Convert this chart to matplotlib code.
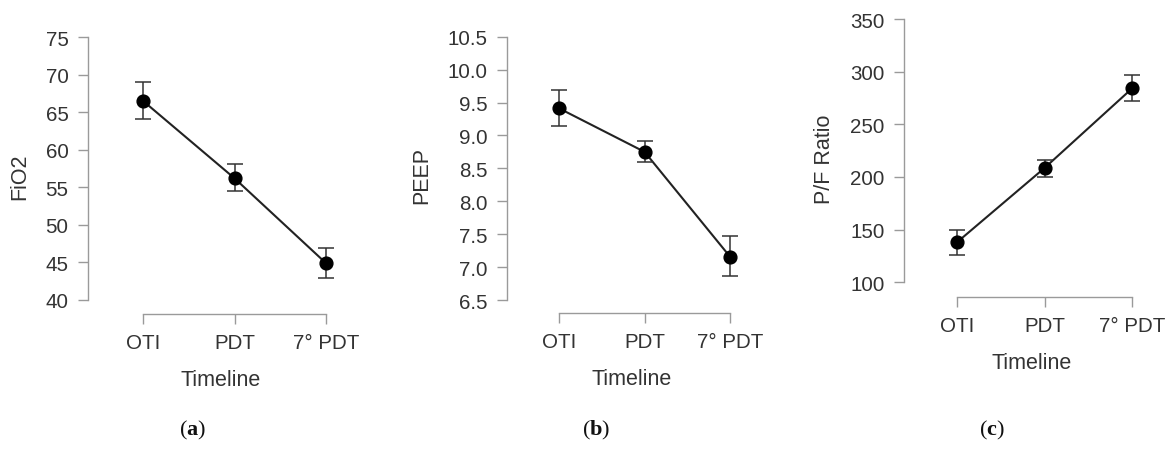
import matplotlib
matplotlib.use("Agg")
import matplotlib.pyplot as plt

plt.rcParams['font.family'] = ['Liberation Sans', 'DejaVu Sans']
plt.rcParams['mathtext.fontset'] = 'custom'
plt.rcParams['mathtext.rm'] = 'Liberation Serif'
plt.rcParams['mathtext.bf'] = 'Liberation Serif:bold'

categories = ["OTI", "PDT", "7° PDT"]

fio2_mean = [66.5, 56.2, 44.9]
fio2_low = [64.1, 54.5, 42.9]
fio2_high = [69.0, 58.1, 46.9]

peep_mean = [9.41, 8.75, 7.16]
peep_low = [9.14, 8.59, 6.87]
peep_high = [9.69, 8.92, 7.47]

pf_mean = [138, 208.6, 284.2]
pf_low = [126.3, 200.4, 272]
pf_high = [150, 216.5, 296.8]

ylabels = ["FiO2", "PEEP", "P/F Ratio"]
yticks = [[40, 45, 50, 55, 60, 65, 70, 75],
          [6.5, 7.0, 7.5, 8.0, 8.5, 9.0, 9.5, 10.0, 10.5],
          [100, 150, 200, 250, 300, 350]]
yticklabels = [[str(v) for v in yticks[0]],
               ["%.1f" % v for v in yticks[1]],
               [str(v) for v in yticks[2]]]
captions = ["a", "b", "c"]

W, H = 1170, 452
fig = plt.figure(figsize=(W / 100, H / 100), dpi=100)

# layout in pixels: (left spine x, x of cat0, px per cat unit, y px of top tick, y px of bottom tick, x-spine y px)
layouts = [
    (88.0, 143.0, 91.5, 38.0, 301.0, 315.0),
    (507.3, 559.3, 85.3, 37.7, 301.0, 314.0),
    (904.3, 957.0, 87.6, 20.0, 283.3, 297.7),
]
caption_x = [193, 596, 992]
caption_y = 430

spine_col = '#9a9a9a'
text_col = '#333333'

series = [(fio2_mean, fio2_low, fio2_high),
          (peep_mean, peep_low, peep_high),
          (pf_mean, pf_low, pf_high)]

for i in range(3):
    lx, c0, ppu, ytop, ybot, xsp = layouts[i]
    ymin_t, ymax_t = yticks[i][0], yticks[i][-1]
    ppv = (ybot - ytop) / (ymax_t - ymin_t)
    ylo = ymin_t - (xsp - ybot) / ppv
    xlo = -(c0 - lx) / ppu
    xhi = 2.3
    right_px = lx + (xhi - xlo) * ppu
    ax = fig.add_axes([lx / W, (H - xsp) / H, (right_px - lx) / W, (xsp - ytop) / H])
    ax.set_xlim(xlo, xhi)
    ax.set_ylim(ylo, ymax_t)
    ax.patch.set_alpha(0)

    m, lo, hi = series[i]
    x = list(range(len(categories)))
    yerr = [[m[k] - lo[k] for k in x], [hi[k] - m[k] for k in x]]
    ax.plot(x, m, color='#222222', lw=1.5, zorder=2)
    ax.errorbar(x, m, yerr=yerr, fmt='none', ecolor='#333333', elinewidth=1.1,
                capsize=6, capthick=1.1, zorder=3)
    ax.plot(x, m, 'o', color='black', markersize=9.2, zorder=4)

    for s in ['top', 'right']:
        ax.spines[s].set_visible(False)
    for s in ['left', 'bottom']:
        ax.spines[s].set_color(spine_col)
        ax.spines[s].set_linewidth(1.0)
    ax.spines['left'].set_bounds(ymin_t, ymax_t)
    ax.spines['bottom'].set_bounds(0, 2)

    ax.set_yticks(yticks[i])
    ax.set_yticklabels(yticklabels[i])
    ax.set_xticks(x)
    ax.set_xticklabels(categories)
    ax.tick_params(axis='both', colors=spine_col, labelcolor=text_col,
                   length=7, width=1.0, pad=7, labelsize=14.8)
    ax.set_ylabel(ylabels[i], fontsize=15.5, color=text_col, labelpad=11)
    ax.set_xlabel("Timeline", fontsize=15.5, color=text_col, labelpad=12)

    fig.text(caption_x[i] / W, 1 - caption_y / H, r"($\mathbf{%s}$)" % captions[i],
             fontsize=16, family='Liberation Serif', ha='center', va='center', color='#111111')

fig.savefig("out.png", dpi=100)
